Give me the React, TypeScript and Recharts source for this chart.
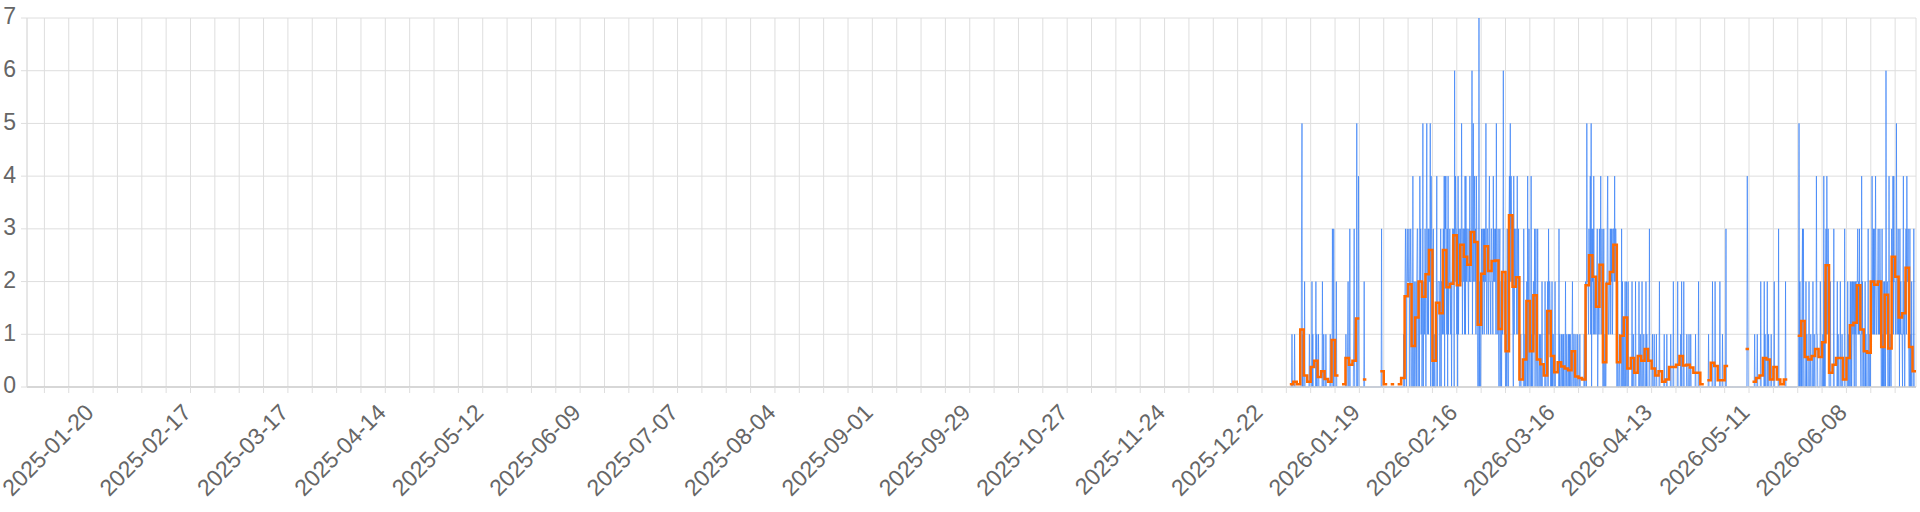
import { ComposedChart, Line, XAxis, YAxis, CartesianGrid, ReferenceLine } from 'recharts';

// days are counted from 2025-01-01 (day 0)
const DOMAIN_END = 543;
const FIRST_MONDAY = '2025-01-06';
const FIRST_DATA_DAY = '2025-12-30';

const TICK_LABELS = [
  '2025-01-20', '2025-02-17', '2025-03-17', '2025-04-14', '2025-05-12', '2025-06-09',
  '2025-07-07', '2025-08-04', '2025-09-01', '2025-09-29', '2025-10-27', '2025-11-24',
  '2025-12-22', '2026-01-19', '2026-02-16', '2026-03-16', '2026-04-13', '2026-05-11',
  '2026-06-08',
];

const Y_TICKS = [0, 1, 2, 3, 4, 5, 6, 7];

// counts, 8 readings per day (every 3 hours)
const COUNTS_BY_DAY = [
  '00000100', '00010000', '00000000', '00035010', '00200000', '00000100', '00020100', '00002010',
  '00100000', '00020010', '00010000', '00000100', '00310300', '00020000', '00000000', '00000000',
  '01000120', '00300000', '00013000', '00500140', '00000000', '00020000', '00000000', '00000000',
  '00000000', '00000000', '00030000', '00000000', '00000000', '00000000', '00000000', '00000000',
  '00000010', '02320232', '22320232', '00040020', '01202330', '22042312', '01502213', '20352131',
  '32250432', '00301000', '02401222', '20130221', '23140434', '21304122', '32120233', '23062433',
  '12041322', '32253133', '23141423', '32213242', '22361352', '34231432', '00070200', '23213231',
  '32252133', '21342213', '32214232', '23152123', '10230120', '21262112', '00103100', '34352432',
  '21041322', '32142131', '00010000', '00300100', '12040231', '00040100', '22130231', '00300010',
  '01002000', '00020000', '12031221', '01020110', '00200000', '00030100', '01001010', '00200100',
  '01010100', '01200110', '00100010', '00010000', '00000100', '21052221', '32241503', '23142122',
  '12230121', '32241232', '00300100', '21342112', '23132312', '33242332', '00200010', '00030200',
  '10020020', '00200000', '00020010', '00020000', '00020010', '00200010', '00020100', '00030000',
  '00100010', '00010000', '00200000', '00000100', '00010000', '00001000', '00200000', '00002000',
  '00010200', '00200000', '01000010', '00100000', '00000100', '00002000', '00000000', '00000000',
  '00010000', '00002000', '00200000', '00000200', '00010000', '00030000', '00000000', '00000000',
  '00000000', '00000000', '00000000', '00004200', '00000000', '00000100', '00010000', '00020000',
  '00020100', '00200100', '00010000', '00200000', '00003000', '00000000', '00002000', '00000000',
  '00000000', '00000000', '00050210', '10230310', '00020100', '00200010', '00020010', '00041100',
  '00002100', '00104020', '23142132', '00020000', '00030000', '00020100', '00200010', '00003000',
  '00020100', '12020121', '21021202', '22312131', '10041201', '00020100', '00300010', '22142131',
  '31242112', '23121322', '00301020', '21062120', '00401100', '32241422', '21152123', '12031211',
  '10241201', '23142231', '00301020', '00030000',
];

// daily average, null where there is no value
const DAILY_AVG = [
  0.05, 0.1, 0.05, 1.09, 0.22, 0.1, 0.38, 0.5, 0.19, 0.3, 0.15, 0.1, 0.89, 0.22, null, 0.05,
  0.55, 0.42, 0.5, 1.3, null, 0.14, null, null, null, null, 0.3, 0.05, null, 0.05, null, 0.05,
  0.17, 1.72, 1.95, 0.78, 1.32, 2.0, 1.71, 2.14, 2.6, 0.5, 1.6, 1.4, 2.6, 1.89, 1.96, 2.88,
  1.93, 2.7, 2.47, 2.32, 2.94, 2.75, 1.18, 2.15, 2.67, 2.2, 2.39, 2.4, 1.1, 2.18, 0.68, 3.26,
  1.9, 2.08, 0.14, 0.52, 1.63, 0.68, 1.74, 0.52, 0.43, 0.22, 1.44, 0.59, 0.28, 0.47, 0.39, 0.35,
  0.32, 0.68, 0.2, 0.17, 0.14, 1.93, 2.5, 2.09, 1.52, 2.32, 0.47, 1.96, 2.18, 2.7, 0.47, 0.97,
  1.32, 0.35, 0.55, 0.27, 0.59, 0.5, 0.72, 0.5, 0.35, 0.22, 0.3, 0.1, 0.14, 0.38, 0.38, 0.42,
  0.59, 0.41, 0.42, 0.37, 0.27, 0.27, 0.05, null, 0.13, 0.46, 0.4, 0.13, 0.13, 0.4, null, null,
  null, null, null, 0.72, null, 0.1, 0.17, 0.22, 0.55, 0.52, 0.14, 0.38, 0.14, 0.05, 0.14, null,
  null, null, 0.97, 1.25, 0.57, 0.52, 0.59, 0.72, 0.57, 0.85, 2.31, 0.27, 0.42, 0.55, 0.55, 0.14,
  0.55, 1.17, 1.22, 1.93, 1.09, 0.68, 0.65, 2.0, 1.94, 2.0, 0.76, 1.75, 0.73, 2.47, 2.09, 1.32,
  1.4, 2.26, 0.76, 0.3,
];

const FONT = '"Liberation Sans", Arial, Helvetica, sans-serif';
const GRID = '#dedede';
const CHART_H = 512;
const X_AXIS_H = 125;
const PLOT_BOTTOM = CHART_H - X_AXIS_H;

function dayIndex(s: string) {
  const [y, m, d] = s.split('-').map(Number);
  return Math.round((Date.UTC(y, m - 1, d) - Date.UTC(2025, 0, 1)) / 86400000);
}

const firstDay = dayIndex(FIRST_DATA_DAY);

const weekTicks: number[] = [];
for (let d = dayIndex(FIRST_MONDAY); d <= DOMAIN_END; d += 7) weekTicks.push(d);

const labelByDay: Record<number, string> = {};
TICK_LABELS.forEach((s) => { labelByDay[dayIndex(s)] = s; });

const countData: { x: number; y: number }[] = [];
COUNTS_BY_DAY.forEach((day, i) => {
  day.split('').forEach((c, k) => {
    countData.push({ x: firstDay + i + k / day.length, y: Number(c) });
  });
});

const avgData: { x: number; y: number | null }[] = [];
DAILY_AVG.forEach((v, i) => {
  const d = firstDay + i;
  if (v == null) return;
  avgData.push({ x: d, y: v });
  avgData.push({ x: d + 1, y: v });
  if (DAILY_AVG[i + 1] == null) avgData.push({ x: d + 1, y: null });
});

function XTick(props: any) {
  const { x, payload } = props;
  const label = labelByDay[payload.value];
  if (!label) return <g />;
  const ax = x + 2;
  const ay = PLOT_BOTTOM + 27;
  return (
    <text x={ax} y={ay} transform={`rotate(-45, ${ax}, ${ay})`} textAnchor="end"
      fontSize={23} fill="#666" fontFamily={FONT}>
      {label}
    </text>
  );
}

function YTick(props: any) {
  const { y, payload } = props;
  return (
    <text x={16} y={y} dy="0.28em" textAnchor="end" fontSize={23} fill="#666" fontFamily={FONT}>
      {payload.value}
    </text>
  );
}

export default function App() {
  return (
    <div style={{ position: 'absolute', left: 0, top: 0, width: 1920, height: CHART_H, background: '#fff' }}>
      <ComposedChart width={1920} height={CHART_H} margin={{ top: 18, right: 4, bottom: 0, left: 0 }}>
        <CartesianGrid stroke={GRID} />
        <XAxis
          type="number"
          dataKey="x"
          domain={[0, DOMAIN_END]}
          ticks={weekTicks}
          interval={0}
          allowDataOverflow
          height={X_AXIS_H}
          tick={XTick}
          tickLine={{ stroke: GRID }}
          axisLine={{ stroke: '#cfcfcf' }}
        />
        <YAxis
          type="number"
          domain={[0, 7]}
          ticks={Y_TICKS}
          interval={0}
          width={27}
          tick={YTick}
          tickLine={{ stroke: GRID }}
          axisLine={{ stroke: GRID }}
        />
        <Line data={countData} dataKey="y" type="linear" stroke="#3b82f6" strokeWidth={0.8}
          strokeOpacity={0.9} dot={false} isAnimationActive={false} />
        <Line data={avgData} dataKey="y" type="linear" stroke="#ff6a00" strokeWidth={2.5}
          dot={false} isAnimationActive={false} connectNulls={false} />
        <ReferenceLine y={0} stroke="#cfcfcf" />
      </ComposedChart>
    </div>
  );
}
